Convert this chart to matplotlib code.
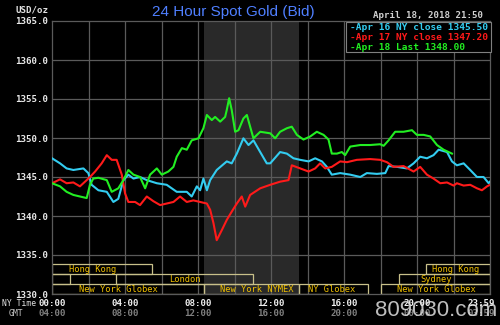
import matplotlib
matplotlib.use("Agg")
import matplotlib.pyplot as plt
from matplotlib.patches import Rectangle
from matplotlib.transforms import blended_transform_factory

# ---------------- data ----------------
apr16_hours = [0.0, 0.44, 0.80, 1.17, 1.72, 1.99, 2.17, 2.54, 3.0, 3.36, 3.63, 3.91, 4.18, 4.46,
               4.82, 5.19, 5.74, 6.28, 6.83, 7.38, 7.65, 7.93, 8.11, 8.29, 8.48, 8.66, 9.02, 9.57,
               9.84, 10.12, 10.48, 10.76, 11.03, 11.40, 11.76, 11.95, 12.49, 12.86, 13.22, 13.59,
               14.05, 14.41, 14.78, 15.05, 15.32, 15.78, 16.33, 16.88, 17.24, 17.79, 18.25, 18.43,
               18.89, 19.43, 19.80, 20.16, 20.53, 20.89, 21.17, 21.63, 21.90, 22.17, 22.54, 22.90,
               23.27, 23.63, 23.91, 23.98]
apr16_values = [1347.4, 1346.75, 1346.1, 1345.9, 1346.1, 1345.5, 1344.0, 1343.3, 1343.1, 1341.8,
                1342.2, 1344.6, 1345.3, 1344.8, 1345.0, 1344.6, 1344.2, 1344.0, 1343.1, 1343.1,
                1342.5, 1343.8, 1343.3, 1344.8, 1343.3, 1344.6, 1345.9, 1347.0, 1346.75, 1348.0,
                1349.96, 1349.1, 1349.7, 1348.2, 1346.75, 1346.75, 1348.2, 1348.0, 1347.4, 1347.2,
                1347.0, 1347.4, 1347.0, 1346.3, 1345.3, 1345.5, 1345.3, 1345.0, 1345.5, 1345.4,
                1345.5, 1346.4, 1346.3, 1346.1, 1346.75, 1347.6, 1347.4, 1347.8, 1348.5, 1348.2,
                1347.0, 1346.5, 1346.75, 1345.9, 1345.0, 1345.0, 1344.2, 1344.4]

apr17_hours = [0.0, 0.44, 0.80, 1.17, 1.53, 1.90, 2.08, 2.36, 2.72, 3.0, 3.27, 3.54, 3.82, 4.0,
               4.18, 4.55, 4.82, 5.19, 5.55, 5.92, 6.28, 6.65, 7.01, 7.38, 7.74, 8.11, 8.48, 8.66,
               8.84, 9.02, 9.30, 9.57, 9.84, 10.12, 10.39, 10.58, 10.85, 11.40, 11.95, 12.49,
               12.95, 13.13, 13.59, 14.05, 14.41, 14.68, 14.96, 15.32, 15.78, 16.15, 16.69, 17.42,
               17.97, 18.34, 18.70, 19.25, 19.80, 20.16, 20.53, 20.89, 21.26, 21.63, 21.99, 22.17,
               22.54, 22.90, 23.27, 23.54, 23.82, 23.98]
apr17_values = [1344.2, 1344.7, 1344.2, 1344.3, 1343.8, 1344.6, 1345.0, 1345.7, 1346.75, 1347.8,
                1347.2, 1347.2, 1345.3, 1342.9, 1341.8, 1341.8, 1341.4, 1342.5, 1341.9, 1341.4,
                1341.6, 1341.8, 1342.5, 1341.8, 1342.0, 1341.8, 1341.6, 1340.8, 1339.1, 1336.9,
                1338.2, 1339.5, 1340.55, 1341.6, 1342.5, 1341.2, 1342.7, 1343.55, 1344.0, 1344.4,
                1344.6, 1346.5, 1346.1, 1345.7, 1346.1, 1346.75, 1346.1, 1346.3, 1347.0, 1346.9,
                1347.2, 1347.3, 1347.2, 1346.9, 1346.3, 1346.4, 1345.7, 1346.3, 1345.3, 1344.8,
                1344.2, 1344.3, 1343.9, 1344.2, 1343.9, 1344.0, 1343.55, 1343.3, 1343.8, 1344.0]

apr18_hours = [0.0, 0.44, 0.80, 1.17, 1.53, 1.90, 2.08, 2.26, 2.54, 3.0, 3.27, 3.63, 3.91, 4.18,
               4.46, 4.82, 5.10, 5.37, 5.74, 6.01, 6.37, 6.65, 6.83, 7.11, 7.38, 7.65, 8.02, 8.29,
               8.48, 8.75, 8.93, 9.21, 9.48, 9.57, 9.70, 9.84, 10.03, 10.21, 10.48, 10.67, 10.85,
               11.03, 11.40, 11.95, 12.22, 12.49, 12.86, 13.13, 13.41, 13.77, 14.14, 14.50, 14.87,
               15.14, 15.32, 15.60, 15.87, 16.05, 16.33, 16.88, 17.42, 17.97, 18.16, 18.43, 18.79,
               19.25, 19.71, 19.98, 20.35, 20.71, 21.08, 21.44, 21.90]
apr18_values = [1344.2, 1343.8, 1343.1, 1342.7, 1342.5, 1342.3, 1344.0, 1344.8, 1344.9, 1344.6,
                1343.1, 1343.55, 1344.6, 1345.9, 1345.3, 1345.0, 1343.55, 1345.3, 1346.1, 1345.3,
                1345.7, 1346.3, 1347.6, 1348.7, 1348.5, 1349.7, 1349.96, 1351.25, 1352.95, 1352.3,
                1352.7, 1352.1, 1352.7, 1353.6, 1355.1, 1353.6, 1350.8, 1351.0, 1352.5, 1352.95,
                1351.45, 1349.96, 1350.8, 1350.6, 1349.96, 1350.8, 1351.25, 1351.45, 1350.4,
                1349.8, 1350.2, 1350.8, 1350.4, 1349.8, 1348.0, 1348.0, 1348.2, 1347.8, 1348.9,
                1349.1, 1349.1, 1349.2, 1349.0, 1349.7, 1350.8, 1350.8, 1351.0, 1350.4, 1350.4,
                1350.2, 1349.1, 1348.5, 1348.0]

legend_labels = ["-Apr 16 NY close 1345.50", "-Apr 17 NY close 1347.20", "-Apr 18 Last 1348.00"]
series_colors = ["#33ccf0", "#ff1a1a", "#22ee22"]

y_ticks = [1330, 1335, 1340, 1345, 1350, 1355, 1360, 1365]
ny_tick_hours = [0, 4, 8, 12, 16, 20, 23.983]
ny_tick_labels = ["00:00", "04:00", "08:00", "12:00", "16:00", "20:00", "23:59"]
gmt_tick_labels = ["04:00", "08:00", "12:00", "16:00", "20:00", "00:00", "03:59"]

nymex_start, nymex_end = 8.33, 13.5

# sessions: name, row (0 top .. 2 bottom), start hour, end hour
session_names = ["Hong Kong", "Hong Kong", "", "London", "Sydney",
                 "New York Globex", "New York NYMEX", "NY Globex", "New York Globex"]
session_rows = [0, 0, 1, 1, 1, 2, 2, 2, 2]
session_starts = [0.0, 20.5, 0.0, 3.5, 19.0, 0.0, 8.33, 13.5, 18.0]
session_ends = [5.5, 23.983, 1.0, 11.0, 23.983, 8.33, 13.5, 17.33, 23.983]

# ---------------- layout ----------------
W, H = 500, 325
fig = plt.figure(figsize=(W / 100, H / 100), dpi=100, facecolor="black")


def fx(x):
    return x / W


def fy(y):
    return 1 - y / H


L, R, T, B = 52, 490, 21, 294
ax = fig.add_axes([fx(L), fy(B), (R - L) / W, (B - T) / H], facecolor="black")
ax.set_xlim(0, 23.983)
ax.set_ylim(1330, 1365)

mono = "DejaVu Sans Mono"
grid_c = "#5a5a5a"

# shaded NYMEX region
ax.axvspan(nymex_start, nymex_end, color="#292929", zorder=0, lw=0)

# grid
for yv in y_ticks[1:-1]:
    ax.axhline(yv, color=grid_c, lw=0.9, zorder=1)
for xv in range(2, 24, 2):
    ax.axvline(xv, color=grid_c, lw=0.9, zorder=1)
for s in ax.spines.values():
    s.set_color(grid_c)
    s.set_linewidth(0.9)

# session bars
row_px = [(264, 274), (274, 284), (284, 294)]


def py2v(y):
    return 1365 - (y - T) * 35 / (B - T)


label_hours = [2.2, 22.1, None, 7.25, 21.05, 3.65, 11.2, 15.3, 21.05]
for name, row, s0, s1, lh in zip(session_names, session_rows, session_starts, session_ends, label_hours):
    y0 = py2v(row_px[row][1])
    y1 = py2v(row_px[row][0])
    ax.add_patch(Rectangle((s0, y0), s1 - s0, y1 - y0, fill=False, edgecolor="#c8c08a",
                           lw=0.9, zorder=2))
    if name:
        ax.text(lh, (y0 + y1) / 2, name, color="#f0c000", fontsize=6.3, family=mono,
                ha="center", va="center", zorder=3)

# series
for hrs, vals, col in [(apr16_hours, apr16_values, series_colors[0]),
                       (apr17_hours, apr17_values, series_colors[1]),
                       (apr18_hours, apr18_values, series_colors[2])]:
    ax.plot(hrs, vals, color=col, lw=1.5, zorder=4)

# y tick labels
ax.set_yticks(y_ticks)
ax.set_yticklabels([f"{v:.1f}" for v in y_ticks], family=mono, fontsize=6.6,
                   fontweight="bold", color="#e8e8e8")
ax.tick_params(axis="y", length=0, pad=2.5)
ax.set_xticks([])

# x labels (NY time and GMT)
tr = blended_transform_factory(ax.transData, fig.transFigure)
for i, (h, l1, l2) in enumerate(zip(ny_tick_hours, ny_tick_labels, gmt_tick_labels)):
    last = i == len(ny_tick_hours) - 1
    xpos, trans, ha = (fx(495), fig.transFigure, "right") if last else (h, tr, "center")
    fig.text(xpos, fy(303.5), l1, transform=trans, ha=ha, va="center", family=mono,
             fontsize=6.6, fontweight="bold", color="#f0f0f0")
    fig.text(xpos, fy(313), l2, transform=trans, ha=ha, va="center", family=mono,
             fontsize=6.6, fontweight="bold", color="#808080")
fig.text(fx(2), fy(303.5), "NY Time", ha="left", va="center", family=mono, fontsize=5.9,
         color="#e0e0e0")
fig.text(fx(9), fy(313), "GMT", ha="left", va="center", family=mono, fontsize=5.9,
         color="#c8c8c8")

# title and header texts
fig.text(fx(233), fy(12), "24 Hour Spot Gold (Bid)", ha="center", va="center",
         family="Liberation Sans", fontsize=11, color="#4f7fff")
fig.text(fx(16), fy(10), "USD/oz", ha="left", va="center", family=mono, fontsize=6.6,
         fontweight="bold", color="#e0e0e0")
fig.text(fx(483), fy(16), "April 18, 2018 21:50", ha="right", va="center", family=mono,
         fontsize=6.6, fontweight="bold", color="#d0d0d0")

# legend box
ax.add_patch(Rectangle((fx(346), fy(52)), (491 - 346) / W, 30 / H, transform=fig.transFigure,
                       facecolor="black", edgecolor="#808080", lw=0.8, zorder=10, clip_on=False))
for i, (lab, col) in enumerate(zip(legend_labels, series_colors)):
    fig.text(fx(350), fy(27 + 10 * i), lab, ha="left", va="center", family=mono, fontsize=6.8,
             fontweight="bold", color=col, zorder=11)

# watermark
fig.text(fx(436), fy(310), "809030.com", ha="center", va="center", family="Liberation Sans",
         fontsize=16, color="#e0e0e0", alpha=0.85, zorder=12)

fig.savefig("out.png", dpi=100, facecolor="black")
